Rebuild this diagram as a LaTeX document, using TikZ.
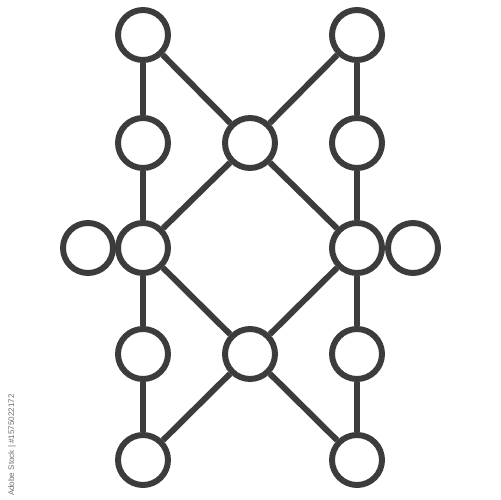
\documentclass[tikz,border=0pt]{standalone}
\usepackage{fontspec}
\setmainfont{Liberation Sans}
\definecolor{icon}{HTML}{3C3C3C}
\definecolor{wm}{HTML}{707070}
\begin{document}
\begin{tikzpicture}[x=0.02cm,y=-0.02cm,
  nd/.style={circle,draw=icon,line width=3.4pt,minimum size=1cm,inner sep=0pt,fill=white},
  ln/.style={draw=icon,line width=3.4pt}]
\useasboundingbox (0,0) rectangle (500,500);
\node[nd] (tl) at (143,35) {};
\node[nd] (tr) at (357,35) {};
\node[nd] (l2) at (143,143) {};
\node[nd] (ct) at (250,143) {};
\node[nd] (r2) at (357,143) {};
\node[nd] (fl) at (88,248) {};
\node[nd] (l3) at (143,248) {};
\node[nd] (r3) at (357,248) {};
\node[nd] (fr) at (413,248) {};
\node[nd] (l4) at (143,354) {};
\node[nd] (cb) at (250,354) {};
\node[nd] (r4) at (357,354) {};
\node[nd] (bl) at (143,460) {};
\node[nd] (br) at (357,460) {};
\path[ln] (tl)--(l2) (l2)--(l3) (l3)--(l4) (l4)--(bl)
          (tr)--(r2) (r2)--(r3) (r3)--(r4) (r4)--(br)
          (tl)--(ct) (tr)--(ct) (ct)--(l3) (ct)--(r3)
          (l3)--(cb) (r3)--(cb) (cb)--(bl) (cb)--(br);
\node[rotate=90,text=wm,font=\fontsize{4.6}{5}\selectfont,inner sep=0pt] (wmk) at (12,445) {Adobe Stock | \#1575022172};
\end{tikzpicture}
\end{document}
